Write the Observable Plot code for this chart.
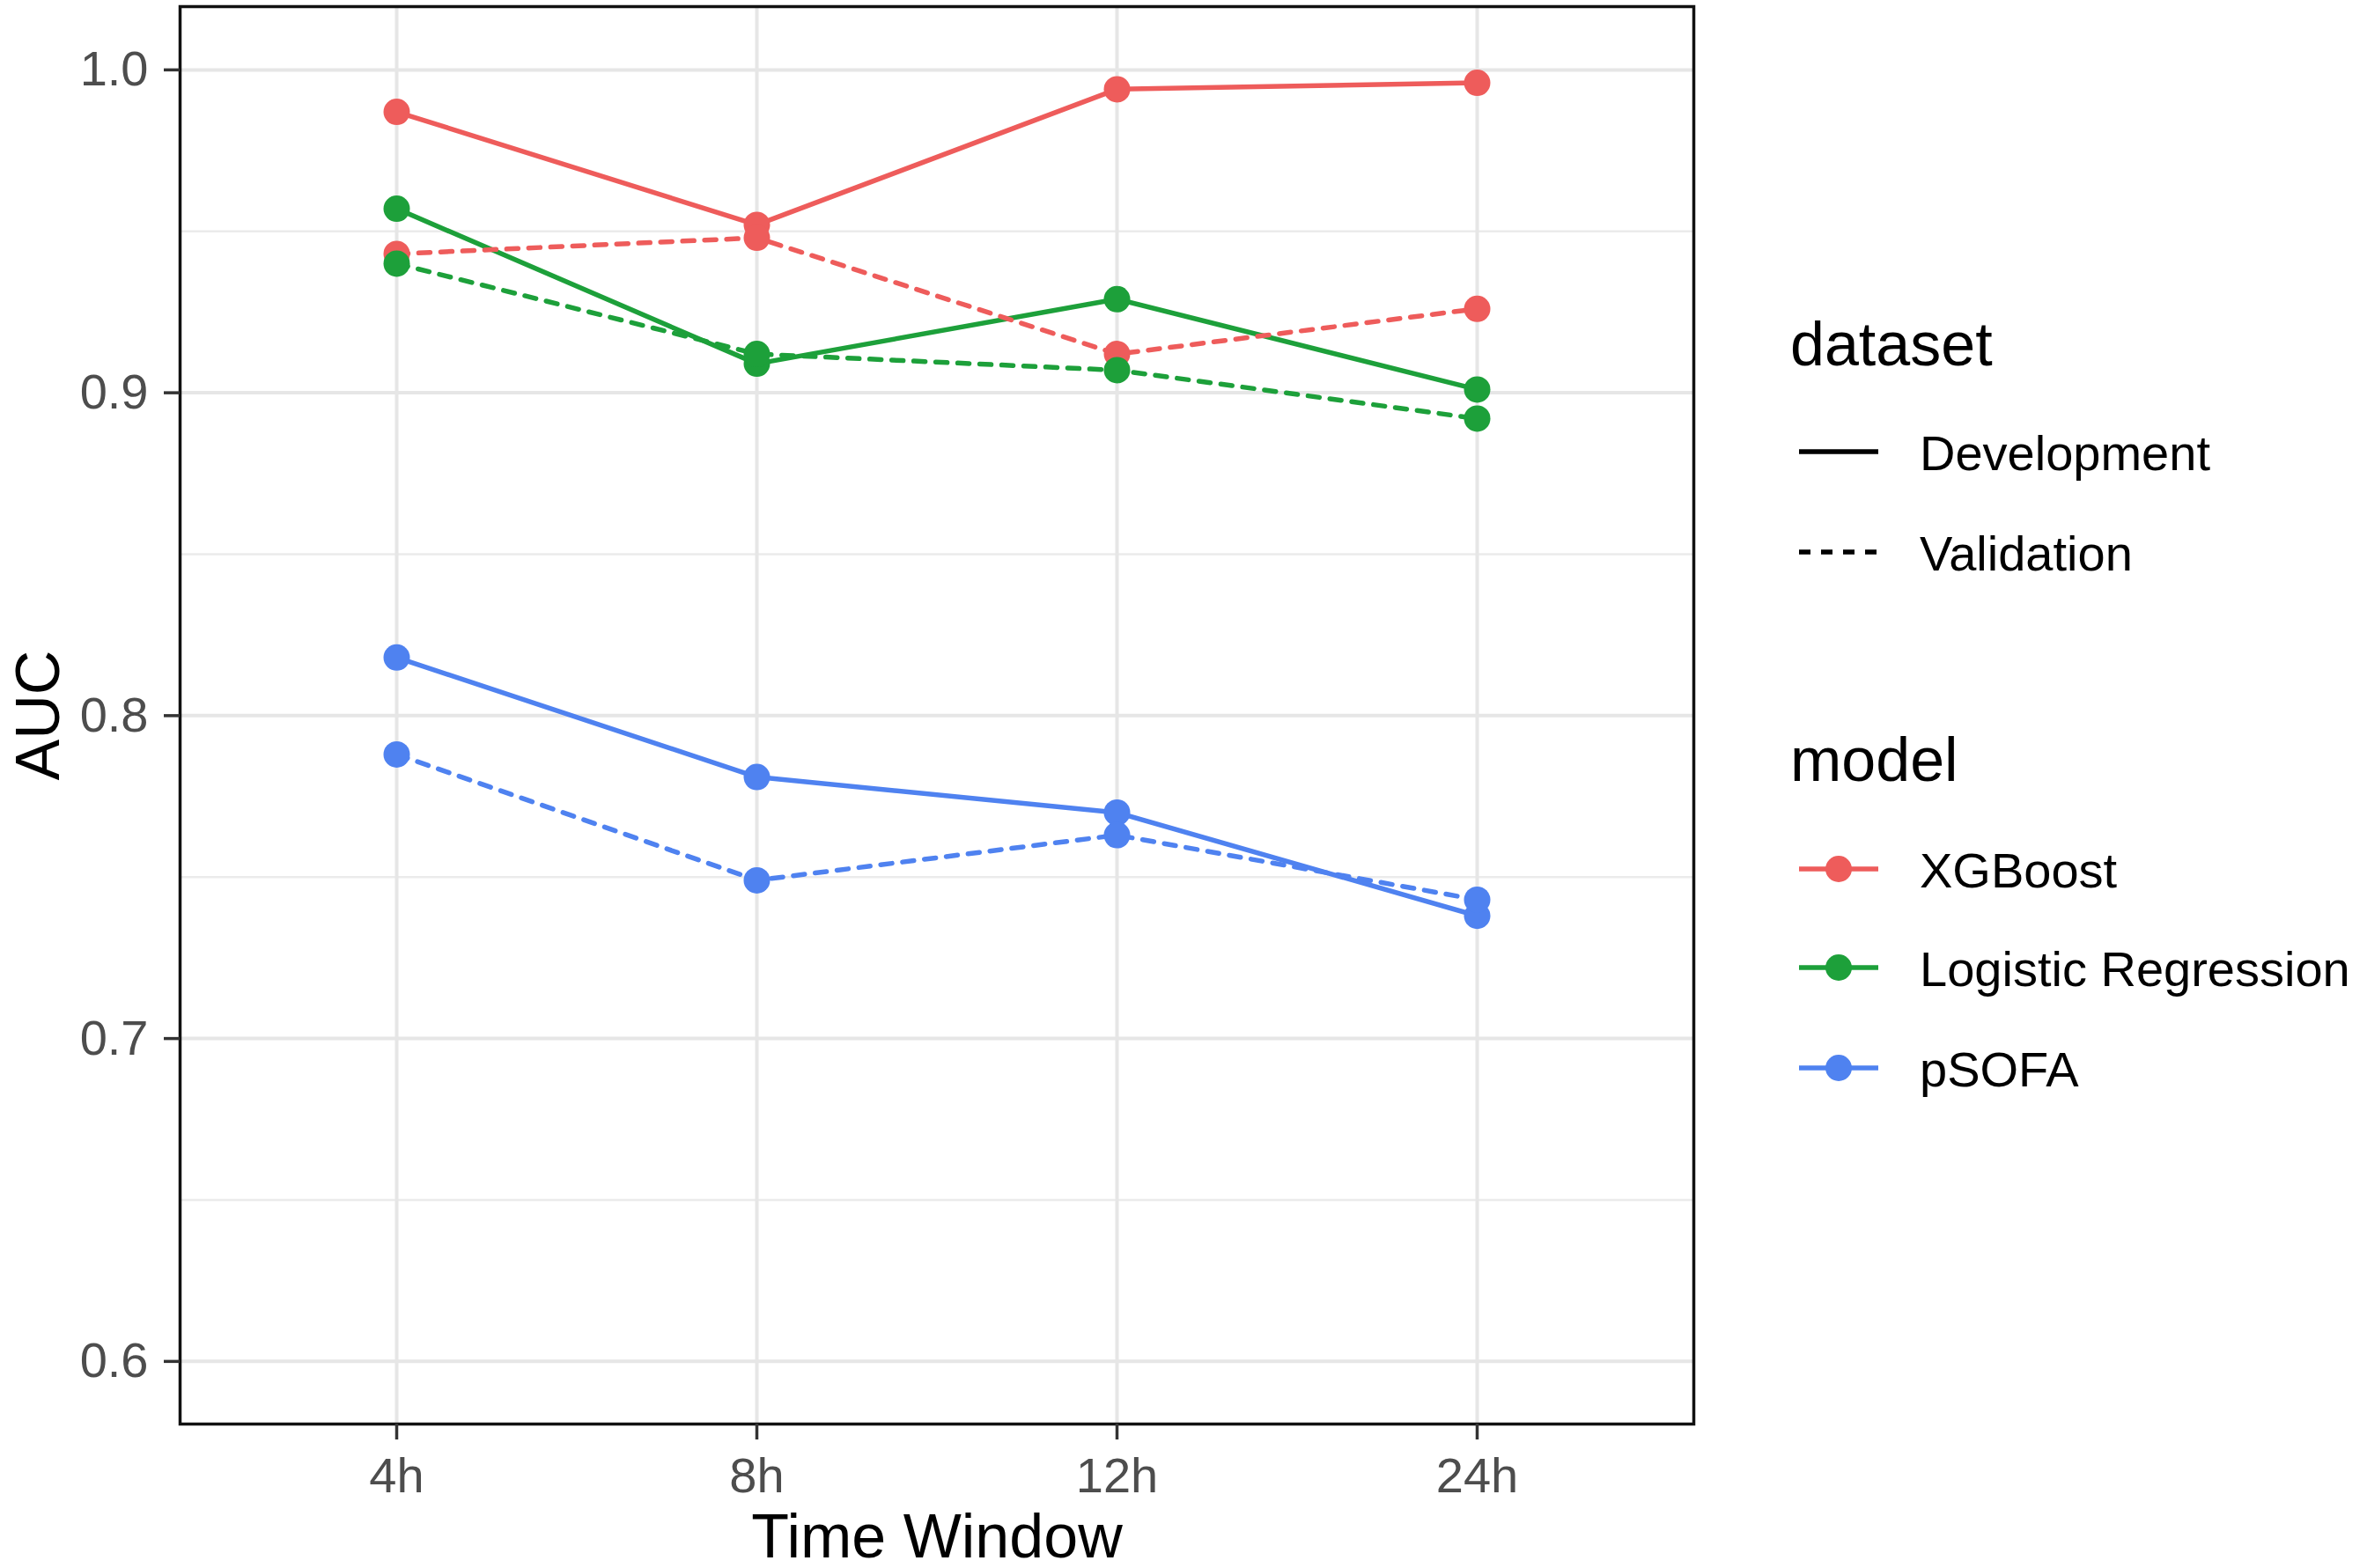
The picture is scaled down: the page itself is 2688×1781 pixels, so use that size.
<!DOCTYPE html>
<html>
<head>
<meta charset="utf-8">
<script src="https://cdn.jsdelivr.net/npm/d3@7"></script>
<script src="https://cdn.jsdelivr.net/npm/@observablehq/plot@0.6"></script>
<style>
  html, body { margin: 0; padding: 0; background: #ffffff; }
  #chart { width: 2688px; height: 1781px; }
</style>
</head>
<body>
<div id="chart"></div>
<script>
// ---- Data ----
const timeWindows = ["4h", "8h", "12h", "24h"];
const models = ["XGBoost", "Logistic Regression", "pSOFA"];
const datasets = ["Development", "Validation"];
const modelColors = ["#EE5C5B", "#1DA03A", "#4F82F0"];

const xgbDev   = [0.987, 0.952, 0.994, 0.996];
const xgbVal   = [0.943, 0.948, 0.912, 0.926];
const lrDev    = [0.957, 0.909, 0.929, 0.901];
const lrVal    = [0.940, 0.912, 0.907, 0.892];
const psofaDev = [0.818, 0.781, 0.770, 0.738];
const psofaVal = [0.788, 0.749, 0.763, 0.743];

const yMajorTicks = [0.6, 0.7, 0.8, 0.9, 1.0];
const yMinorTicks = [0.65, 0.75, 0.85, 0.95];
const yDomain = [0.5806, 1.0196];

const xLabel = "Time Window";
const yLabel = "AUC";
const legendDatasetTitle = "dataset";
const legendModelTitle = "model";

// ---- Build a tidy table ----
const seriesValues = {
  Development: [xgbDev, lrDev, psofaDev],
  Validation: [xgbVal, lrVal, psofaVal]
};
const rows = [];
for (const ds of datasets) {
  models.forEach((m, mi) => {
    timeWindows.forEach((t, ti) => {
      rows.push({dataset: ds, model: m, time: t, auc: seriesValues[ds][mi][ti]});
    });
  });
}
const devRows = rows.filter(d => d.dataset === "Development");
const valRows = rows.filter(d => d.dataset === "Validation");

const W = 2688, H = 1781;
const mLeft = 204, mRight = W - 1923, mTop = 7, mBottom = H - 1617;
const smallFont = 56, titleFont = 70;
const lineW = 5.5, dash = "13,12", dotR = 15;
const fontStack = "'Liberation Sans', Arial, Helvetica, sans-serif";

const chart = Plot.plot({
  width: W,
  height: H,
  marginLeft: mLeft,
  marginRight: mRight,
  marginTop: mTop,
  marginBottom: mBottom,
  style: {fontFamily: fontStack, background: "#ffffff", overflow: "visible"},
  x: {type: "point", domain: timeWindows, padding: 0.6, axis: null, label: null},
  y: {domain: yDomain, axis: null, label: null},
  color: {domain: models, range: modelColors},
  marks: [
    // grid
    Plot.ruleY(yMinorTicks, {stroke: "#EBEBEB", strokeWidth: 2.5}),
    Plot.ruleY(yMajorTicks, {stroke: "#E6E6E6", strokeWidth: 4}),
    Plot.ruleX(timeWindows, {stroke: "#E6E6E6", strokeWidth: 4}),
    // lines
    Plot.line(devRows, {x: "time", y: "auc", z: "model", stroke: "model", strokeWidth: lineW}),
    Plot.line(valRows, {x: "time", y: "auc", z: "model", stroke: "model", strokeWidth: lineW, strokeDasharray: dash}),
    // points
    Plot.dot(rows, {x: "time", y: "auc", fill: "model", r: dotR, stroke: null}),
    // panel border
    Plot.frame({stroke: "#111111", strokeWidth: 3.5}),
    // axes
    Plot.axisY(yMajorTicks, {
      tickFormat: d3.format(".1f"), tickSize: 18, tickPadding: 18, fontSize: smallFont,
      fill: "#4D4D4D", stroke: "#333333", strokeWidth: 3.5, label: null
    }),
    Plot.axisX(timeWindows, {
      tickSize: 18, tickPadding: 20, fontSize: smallFont,
      fill: "#4D4D4D", stroke: "#333333", strokeWidth: 3.5, label: null
    }),
    // axis titles
    Plot.text([xLabel], {frameAnchor: "bottom", textAnchor: "middle", lineAnchor: "top", dy: 102, fontSize: titleFont, fill: "#000"}),
    Plot.text([yLabel], {frameAnchor: "left", textAnchor: "middle", lineAnchor: "bottom", rotate: -90, dx: 66 - mLeft, fontSize: titleFont, fill: "#000"})
  ]
});

document.getElementById("chart").appendChild(chart);

// ---- Legend (drawn into the same SVG) ----
const svg = d3.select(chart);
const lg = svg.append("g")
  .attr("font-family", fontStack)
  .attr("text-anchor", "start");
const keyX1 = 2043, keyX2 = 2133, keyXC = (keyX1 + keyX2) / 2, textX = 2180, titleX = 2033;

lg.append("text").attr("x", titleX).attr("y", 415).attr("font-size", titleFont)
  .attr("fill", "#000").attr("text-anchor", "start").text(legendDatasetTitle);
const dsKeyY = [513, 627];
datasets.forEach((ds, i) => {
  const y = dsKeyY[i];
  lg.append("line").attr("x1", keyX1).attr("x2", keyX2).attr("y1", y).attr("y2", y)
    .attr("stroke", "#000").attr("stroke-width", lineW)
    .attr("stroke-dasharray", ds === "Validation" ? dash : null);
  lg.append("text").attr("x", textX).attr("y", y + 21).attr("font-size", smallFont)
    .attr("fill", "#000").attr("text-anchor", "start").text(ds);
});

lg.append("text").attr("x", titleX).attr("y", 887).attr("font-size", titleFont)
  .attr("fill", "#000").attr("text-anchor", "start").text(legendModelTitle);
const mKeyY = [987, 1099, 1213];
models.forEach((m, i) => {
  const y = mKeyY[i];
  lg.append("line").attr("x1", keyX1).attr("x2", keyX2).attr("y1", y).attr("y2", y)
    .attr("stroke", modelColors[i]).attr("stroke-width", lineW);
  lg.append("circle").attr("cx", keyXC).attr("cy", y).attr("r", dotR).attr("fill", modelColors[i]);
  lg.append("text").attr("x", textX).attr("y", y + 21).attr("font-size", smallFont)
    .attr("fill", "#000").attr("text-anchor", "start").text(m);
});
</script>
</body>
</html>
